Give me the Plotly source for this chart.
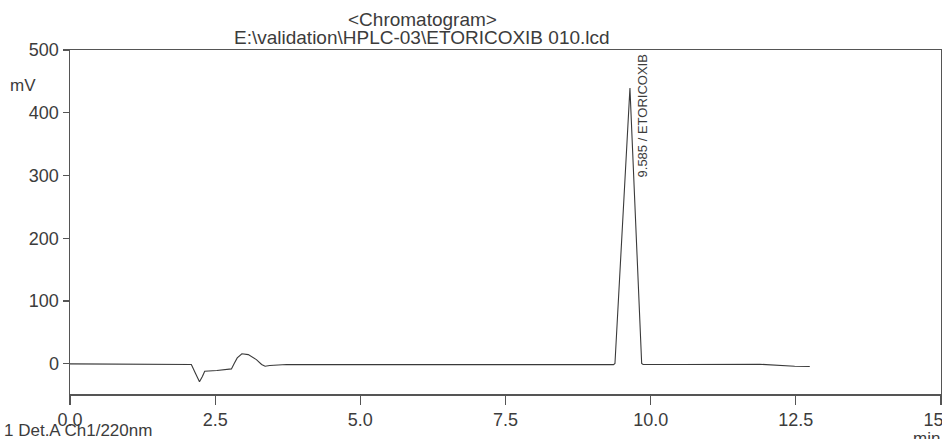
import plotly.graph_objects as go

# ---- data ----
time_min = [0.00, 1.00, 2.05, 2.09, 2.16, 2.23, 2.28, 2.32, 2.53, 2.70, 2.78, 2.83,
            2.88, 2.96, 3.07, 3.21, 3.30, 3.36, 3.44, 3.73, 5.00, 7.50, 9.30,
            9.36, 9.385, 9.643, 9.845, 9.87, 10.50, 11.88, 12.48, 12.74]
signal_mv = [0.0, 0.0, 0.0, -1.0, -15.0, -28.6, -20.0, -11.7, -10.6, -9.5, -8.0, 1.0,
             9.5, 16.0, 14.8, 6.8, -1.0, -3.8, -2.7, -1.1, -1.0, -1.0, -1.6,
             -1.2, 0.5, 439.5, 0.5, -1.0, -1.0, -0.6, -3.8, -4.3]

x_ticks = [0.0, 2.5, 5.0, 7.5, 10.0, 12.5, 15.0]
y_ticks = [0, 100, 200, 300, 400, 500]

peak_rt = "9.585"
peak_name = "ETORICOXIB"
peak_label_x = 9.86
peak_label_y = 395

title_line1 = "<Chromatogram>"
title_line2 = "E:\\validation\\HPLC-03\\ETORICOXIB 010.lcd"
detector = "1 Det.A Ch1/220nm"

FONT = "Liberation Sans, Arial, sans-serif"
TXT = "#3c3c3c"

W, H = 942, 439
ML, MR, MT, MB = 70, 1, 50, 45

fig = go.Figure()
fig.add_trace(go.Scatter(
    x=time_min, y=signal_mv, mode="lines",
    line=dict(color="#3a3a3a", width=1.1),
    hoverinfo="skip", showlegend=False,
))

axis_common = dict(
    showgrid=False, zeroline=False, showline=True, linecolor="#555555",
    linewidth=1.5, mirror=True, ticks="outside", tickcolor="#555555",
    automargin=False, ticklabeloverflow="allow",
    tickfont=dict(family=FONT, size=18, color=TXT),
)

fig.update_layout(
    template="none",
    width=W, height=H,
    margin=dict(l=ML, r=MR, t=MT, b=MB, autoexpand=False),
    paper_bgcolor="white", plot_bgcolor="white",
    xaxis=dict(range=[0, 15], tickvals=x_ticks,
               ticktext=[f"{v:.1f}" for v in x_ticks],
               ticklen=9, tickwidth=1.2, **axis_common),
    yaxis=dict(range=[-48, 500], tickvals=y_ticks,
               ticktext=[str(v) for v in y_ticks],
               ticklen=6, tickwidth=1.2, **axis_common),
    font=dict(family=FONT, color=TXT),
)

fig.add_annotation(
    x=peak_label_x, y=peak_label_y, xref="x", yref="y",
    text=f"{peak_rt} / {peak_name}", textangle=-90, showarrow=False,
    xanchor="center", yanchor="middle",
    font=dict(family=FONT, size=13, color=TXT),
)


def px_to_paper(px, py):
    return (px - ML) / (W - ML - MR), (H - MB - py) / (H - MT - MB)


for text, px, py, size, xa in [
    (title_line1, 422, 19, 19, "center"),
    (title_line2, 422, 38, 19, "center"),
    ("mV", 8, 86, 17, "left"),
    (detector, 2, 430, 17, "left"),
    ("min", 911, 438, 17, "left"),
]:
    xp, yp = px_to_paper(px, py)
    fig.add_annotation(x=xp, y=yp, xref="paper", yref="paper", text=text,
                       showarrow=False, xanchor=xa, yanchor="middle",
                       font=dict(family=FONT, size=size, color=TXT))

fig.write_html(
    "out.html",
    config={"displayModeBar": False, "staticPlot": True},
    post_script="document.body.style.margin='0';document.body.style.overflow='hidden';",
)
